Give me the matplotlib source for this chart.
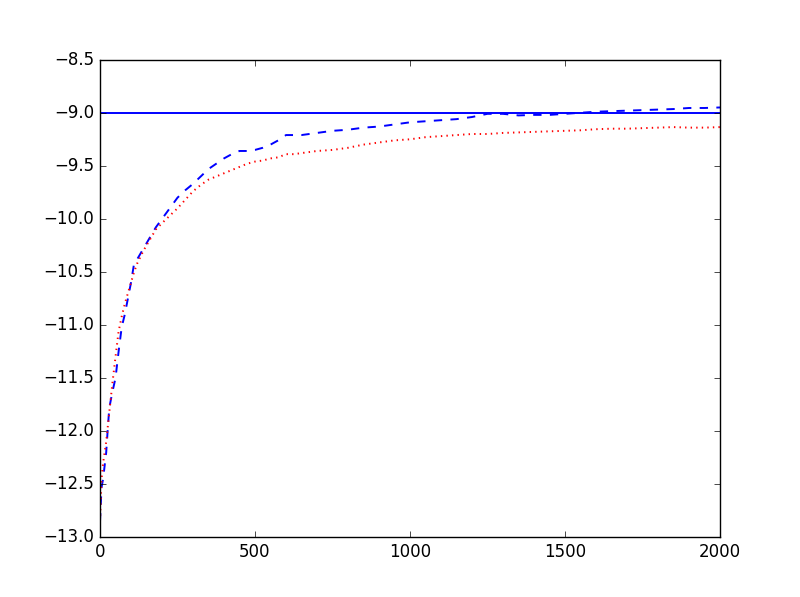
import matplotlib
matplotlib.use("Agg")
import matplotlib.pyplot as plt

iterations = [0, 5, 10, 20, 25, 30, 40, 50, 60, 70, 80, 90, 100, 110, 120, 140, 160, 180, 200,
              225, 250, 275, 300, 325, 350, 375, 400, 425, 450, 475, 500, 525, 550, 575, 600,
              625, 650, 700, 750, 800, 850, 900, 950, 1000, 1050, 1100, 1150, 1200, 1250, 1300,
              1350, 1400, 1450, 1500, 1550, 1600, 1650, 1700, 1750, 1800, 1850, 1900, 1950, 2000]

blue_dashed = [-12.85, -12.53, -12.45, -12.2, -11.98, -11.78, -11.63, -11.5, -11.25, -11.02, -10.9,
               -10.75, -10.6, -10.42, -10.38, -10.28, -10.18, -10.08, -10.0, -9.9, -9.8, -9.73,
               -9.67, -9.6, -9.53, -9.48, -9.43, -9.39, -9.36, -9.36, -9.35, -9.33, -9.3, -9.26,
               -9.21, -9.21, -9.21, -9.19, -9.17, -9.16, -9.14, -9.13, -9.11, -9.09, -9.08, -9.07,
               -9.06, -9.04, -9.01, -9.01, -9.025, -9.02, -9.02, -9.01, -9.0, -8.99, -8.985,
               -8.98, -8.975, -8.97, -8.965, -8.955, -8.955, -8.95]

red_dotted = [-12.85, -12.45, -12.3, -12.1, -11.96, -11.82, -11.55, -11.3, -11.06, -10.92, -10.8,
              -10.7, -10.6, -10.5, -10.42, -10.3, -10.2, -10.1, -10.04, -9.97, -9.9, -9.82,
              -9.74, -9.68, -9.63, -9.6, -9.57, -9.54, -9.51, -9.48, -9.46, -9.45, -9.43, -9.42,
              -9.39, -9.39, -9.38, -9.36, -9.35, -9.33, -9.3, -9.28, -9.26, -9.25, -9.23, -9.22,
              -9.21, -9.2, -9.2, -9.19, -9.185, -9.18, -9.175, -9.17, -9.165, -9.155, -9.15,
              -9.15, -9.145, -9.14, -9.135, -9.14, -9.14, -9.135]

reference_level = -9.0

plt.style.use("classic")
fig = plt.figure(figsize=(8, 5.97), dpi=100)
ax = fig.add_subplot(111)
ax.plot([0, 2000], [reference_level, reference_level], "b-", lw=1.4)
ax.plot(iterations, blue_dashed, "b--", lw=1.4)
ax.plot(iterations, red_dotted, "r:", lw=1.4)
ax.set_xlim(0, 2000)
ax.set_ylim(-13, -8.5)
fig.savefig("out.png", dpi=100)
